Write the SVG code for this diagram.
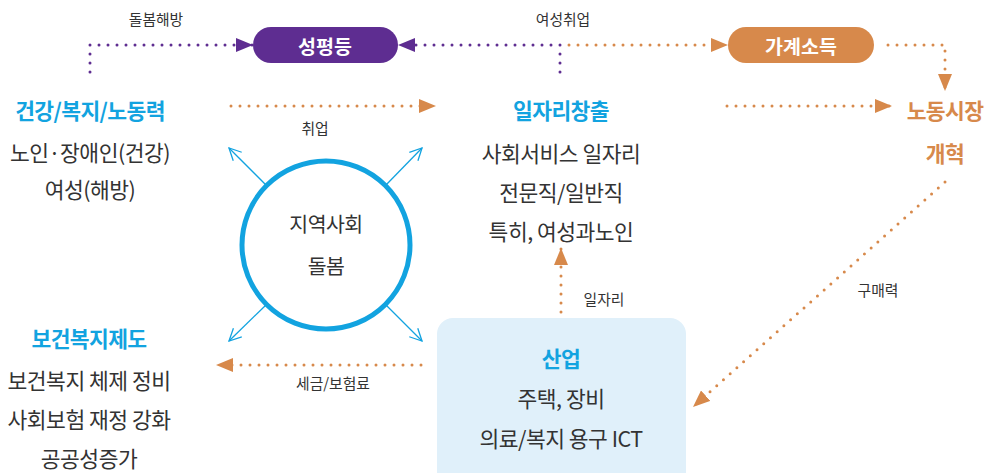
<svg xmlns="http://www.w3.org/2000/svg" width="988" height="473" viewBox="0 0 988 473">
<style>
text{font-family:"Noto Sans CJK KR","Noto Sans",sans-serif;dominant-baseline:central;text-anchor:middle}
.lbl{font-size:14.8px;fill:#333}
.body{font-size:21.5px;fill:#333;letter-spacing:-0.5px}
.cir{font-size:20.5px;fill:#333;letter-spacing:-0.5px}
.hd{font-size:21.5px;font-weight:bold;fill:#12a3e0;letter-spacing:-0.6px}
.hdo{font-size:21.5px;font-weight:bold;fill:#d7894b;letter-spacing:-0.6px}
.pill{font-size:19.5px;font-weight:bold;fill:#fff}
.dp{fill:none;stroke:#5e2d91;stroke-width:3;stroke-dasharray:0 9;stroke-linecap:round}
.do{fill:none;stroke:#d7894b;stroke-width:3;stroke-dasharray:0 9;stroke-linecap:round}
.bl{fill:none;stroke:#12a3e0;stroke-width:1.3}
</style>
<defs>
<marker id="ao" markerWidth="17" markerHeight="14" refX="17" refY="7" orient="auto" markerUnits="userSpaceOnUse"><path d="M0,0 L17,7 L0,14 z" fill="#d7894b"/></marker>
<marker id="ap" markerWidth="17" markerHeight="14" refX="17" refY="7" orient="auto" markerUnits="userSpaceOnUse"><path d="M0,0 L17,7 L0,14 z" fill="#5e2d91"/></marker>
<marker id="ab" markerWidth="14" markerHeight="14" refX="13" refY="7" orient="auto" markerUnits="userSpaceOnUse"><path d="M1,1 L13,7 L1,13" fill="none" stroke="#12a3e0" stroke-width="1.3"/></marker>
</defs>
<g id="connectors">
<path class="dp" d="M90,72 V45 H253" marker-end="url(#ap)"/>
<path class="dp" d="M560,72 V45 H398" marker-end="url(#ap)"/>
<path class="do" d="M569,45 H728" marker-end="url(#ao)"/>
<path class="do" d="M888,45 H945 V91" marker-end="url(#ao)"/>
<path class="do" d="M231,106 H436" marker-end="url(#ao)"/>
<path class="do" d="M727,106 H892" marker-end="url(#ao)"/>
<path class="do" d="M945,182 L693,407" marker-end="url(#ao)"/>
<path class="do" d="M561,312 V248" marker-end="url(#ao)"/>
<path class="do" d="M421,365 H216" marker-end="url(#ao)"/>
<path class="bl" d="M267,186 L229,148" marker-end="url(#ab)"/>
<path class="bl" d="M385,186 L422,148" marker-end="url(#ab)"/>
<path class="bl" d="M267,304 L229,341" marker-end="url(#ab)"/>
<path class="bl" d="M385,304 L422,341" marker-end="url(#ab)"/>
<text class="lbl" x="156" y="18">돌봄해방</text>
<text class="lbl" x="563" y="18">여성취업</text>
<text class="lbl" x="315" y="127">취업</text>
<text class="lbl" x="604" y="298">일자리</text>
<text class="lbl" x="878" y="289">구매력</text>
<text class="lbl" x="333" y="382">세금/보험료</text>
</g>
<g id="gender">
<rect x="253" y="27" width="145" height="36" rx="18" fill="#5e2d91"/>
<text class="pill" x="325" y="45">성평등</text>
</g>
<g id="income">
<rect x="728" y="27" width="146" height="36" rx="18" fill="#d7894b"/>
<text class="pill" x="801" y="45">가계소득</text>
</g>
<g id="health">
<text class="hd" x="90" y="109">건강/복지/노동력</text>
<text class="body" x="90" y="151">노인·장애인(건강)</text>
<text class="body" x="90" y="188">여성(해방)</text>
</g>
<g id="jobs">
<text class="hd" x="561" y="109">일자리창출</text>
<text class="body" x="561" y="152">사회서비스 일자리</text>
<text class="body" x="561" y="191">전문직/일반직</text>
<text class="body" x="561" y="230">특히, 여성과노인</text>
</g>
<g id="labor">
<text class="hdo" x="945" y="109">노동시장</text>
<text class="hdo" x="945" y="152">개혁</text>
</g>
<g id="community">
<circle cx="326" cy="245" r="84" fill="#fff" stroke="#12a3e0" stroke-width="5"/>
<text class="cir" x="326" y="223">지역사회</text>
<text class="cir" x="326" y="265">돌봄</text>
</g>
<g id="welfare">
<text class="hd" x="89" y="337">보건복지제도</text>
<text class="body" x="89" y="379">보건복지 체제 정비</text>
<text class="body" x="89" y="418">사회보험 재정 강화</text>
<text class="body" x="89" y="457">공공성증가</text>
</g>
<g id="industry">
<rect x="437" y="318" width="249" height="170" rx="16" fill="#e0f0fa"/>
<text class="hd" x="561" y="357">산업</text>
<text class="body" x="561" y="397">주택, 장비</text>
<text class="body" x="561" y="437">의료/복지 용구 ICT</text>
</g>
</svg>
